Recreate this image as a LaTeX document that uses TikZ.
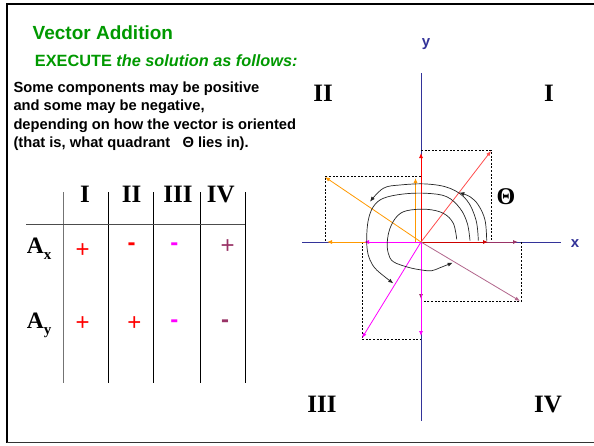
\documentclass[tikz,border=0pt]{standalone}
\usepackage{fontspec}
\setmainfont{Liberation Sans}
\newfontfamily\serifb{Liberation Serif}
\usetikzlibrary{arrows.meta}
\definecolor{axisblue}{RGB}{51,51,153}
\definecolor{titlegreen}{RGB}{0,153,0}
\definecolor{vorange}{RGB}{255,153,0}
\definecolor{vmagenta}{RGB}{255,0,255}
\definecolor{vpurple}{RGB}{153,51,102}
\definecolor{vred}{RGB}{255,0,0}
\tikzset{
  txt/.style={inner sep=0pt, anchor=base west},
  quad/.style={inner sep=0pt, anchor=base, font=\serifb\fontsize{25}{25}\selectfont\bfseries},
  hdr/.style={inner sep=0pt, anchor=base, font=\serifb\fontsize{25}{25}\selectfont\bfseries},
  sign/.style={inner sep=0pt, anchor=center, font=\fontsize{24}{24}\selectfont},
  minus/.style={inner sep=0pt, anchor=center, font=\fontsize{24}{24}\selectfont\bfseries},
  vec/.style={line width=0.8pt, -{Latex[length=5pt,width=4pt]}},
  box/.style={line width=0.8pt, dash pattern=on 2pt off 1.6pt, black},
  theta/.style={line width=0.7pt, black!85, -{Latex[length=5pt,width=4pt]}},
  axisline/.style={line width=0.9pt, axisblue},
  tabline/.style={line width=0.8pt, black},
  comp/.style={inner sep=0pt, anchor=base west, font=\serifb\fontsize{23.5}{23.5}\selectfont\bfseries},
}
\begin{document}
\begin{tikzpicture}[x=1pt,y=-1pt]
\useasboundingbox (0,0) rectangle (594,445);
\fill[white] (0,0) rectangle (594,445);
% frame
\draw[line width=2pt] (594,4.3) -- (7,4.3) -- (7,443);
\draw[line width=1pt, black!80] (7,442.7) -- (594,442.7);

% texts
\node[txt, font=\fontsize{19}{19}\selectfont\bfseries, text=titlegreen] (title) at (32.5,39.3) {Vector Addition};
\node[txt, font=\fontsize{16.3}{16.3}\selectfont\bfseries, text=titlegreen] (exec) at (34.7,66.7) {EXECUTE \itshape the solution as follows:};
\node[txt, font=\fontsize{14.7}{14.7}\selectfont\bfseries] (l1) at (13.3,92.5) {Some components may be positive};
\node[txt, font=\fontsize{14.7}{14.7}\selectfont\bfseries] (l2) at (13.3,110.8) {and some may be negative,};
\node[txt, font=\fontsize{14.7}{14.7}\selectfont\bfseries] (l3) at (13.3,129.1) {depending on how the vector is oriented};
\node[txt, font=\fontsize{14.7}{14.7}\selectfont\bfseries] (l4) at (13.3,147.4) {(that is, what quadrant \ \ Θ lies in).};

% table
\draw[line width=1.5pt, black!55] (63.3,192.3) -- (63.3,382.7);
\draw[tabline] (108.7,192.3) -- (108.7,382.7);
\draw[tabline] (153.3,192.3) -- (153.3,382.7);
\draw[tabline] (200.3,192.3) -- (200.3,382.7);
\draw[tabline] (245,192.3) -- (245,382.7);
\draw[line width=1pt, black!70] (26,224.3) -- (245,224.3);
\node[hdr] (h1) at (85,202.3) {I};
\node[hdr] (h2) at (131.7,202.3) {II};
\node[hdr] (h3) at (178,202.3) {III};
\node[hdr] (h4) at (220.7,202.3) {IV};
\node[comp] (ax) at (26.8,253.3) {A\raisebox{-6pt}{\fontsize{15}{15}\selectfont x}};
\node[comp] (ay) at (26.8,328) {A\raisebox{-6pt}{\fontsize{15}{15}\selectfont y}};
\node[sign, text=vred] (s11) at (82.7,250.7) {+};
\node[minus, text=vred] (s12) at (131.7,247) {-};
\node[minus, text=vmagenta] (s13) at (174.3,247) {-};
\node[sign, text=vpurple] (s14) at (227.7,247) {+};
\node[sign, text=vred] (s21) at (82.7,323.3) {+};
\node[sign, text=vred] (s22) at (134.3,323.3) {+};
\node[minus, text=vmagenta] (s23) at (174.3,324) {-};
\node[minus, text=vpurple] (s24) at (225,324) {-};

% quadrant labels
\node[quad] (q2) at (323,101.7) {II};
\node[quad] (q1) at (549,101.7) {I};
\node[quad] (q3) at (322,412.3) {III};
\node[quad] (q4) at (548,412.3) {IV};

% axes
\coordinate (O) at (421,242);
\coordinate (xl) at (302,242);
\coordinate (xr) at (561,242);
\coordinate (yt) at (421,73);
\coordinate (yb) at (421,421);
\draw[axisline] (xl) -- (xr);
\draw[axisline] (yt) -- (yb);
\node[inner sep=0pt, font=\fontsize{15}{15}\selectfont\bfseries, text=axisblue] (ylab) at (426,44) {y};
\node[inner sep=0pt, font=\fontsize{15}{15}\selectfont\bfseries, text=axisblue] (xlab) at (575,244) {x};

% vector tips
\coordinate (R) at (491,151);
\coordinate (Or) at (325,177);
\coordinate (M) at (362,338);
\coordinate (P) at (520,301);
% component tips
\coordinate (Rx) at (488,242);
\coordinate (Ry) at (421,153);
\coordinate (Ox) at (327,242);
\coordinate (Oyb) at (415.5,242);
\coordinate (Oy) at (415.5,178);
\coordinate (Mx) at (364,242);
\coordinate (My) at (421,336);
\coordinate (Px) at (518,242);
\coordinate (Py) at (421,299);

% dashed boxes
\draw[box] (421,150) -- (491,150) -- (491,242);
\draw[box] (421,176.5) -- (325,176.5) -- (325,242);
\draw[box] (362,242) -- (362,339) -- (421,339);
\draw[box] (521,242) -- (521,301.5) -- (421,301.5);

% components
\draw[vec, vpurple] (O) -- (Px);
\draw[vec, vpurple] (O) -- (Py);
\draw[vec, vmagenta] (O) -- (My);
\draw[vec, vorange] (O) -- (Ox);
\draw[vec, vmagenta] (O) -- (Mx);
\draw[vec, vorange] (Oyb) -- (Oy);
\draw[vec, vred!80!black] (O) -- (Rx);
\draw[vec, vred] (O) -- (Ry);

% vectors
\draw[vec, vred!70!white] (O) -- (R);
\draw[vec, vorange] (O) -- (Or);
\draw[vec, vmagenta] (O) -- (M);
\draw[vec, vpurple!75!white] (O) -- (P);

% theta arcs
\draw[theta] plot[smooth, tension=0.6] coordinates {(456.7,239.3) (453.3,223.3) (443.3,213.3) (426.7,209.3) (406.7,210.7) (396.7,216.7) (390,228.3) (387.3,241.7) (388.3,253.3) (393.3,261.7) (408.3,267.3) (421.7,270) (431.7,270.7) (440,267.7) (452.7,262.7)};
\draw[theta] plot[smooth, tension=0.6] coordinates {(470,240.7) (467.3,223.3) (460,208.3) (446.7,196.7) (426.7,193.3) (403.3,194) (383.3,198.3) (373.3,206.7) (368.3,220) (366.7,236.7) (367.3,250) (370,260) (376.7,270) (393.3,283.3)};
\draw[theta] plot[smooth, tension=0.6] coordinates {(478.3,240.7) (476,220) (466.7,200) (450,188.3) (426.7,184) (400,185) (383.3,188.3) (370,201.7)};
\draw[theta] plot[smooth, tension=0.6] coordinates {(486.7,240.7) (485,220) (478.3,205) (470,196.7) (459.3,192.7)};

\node[inner sep=0pt, font=\serifb\fontsize{24}{24}\selectfont\bfseries] (th) at (506,197) {Θ};
\end{tikzpicture}
\end{document}
